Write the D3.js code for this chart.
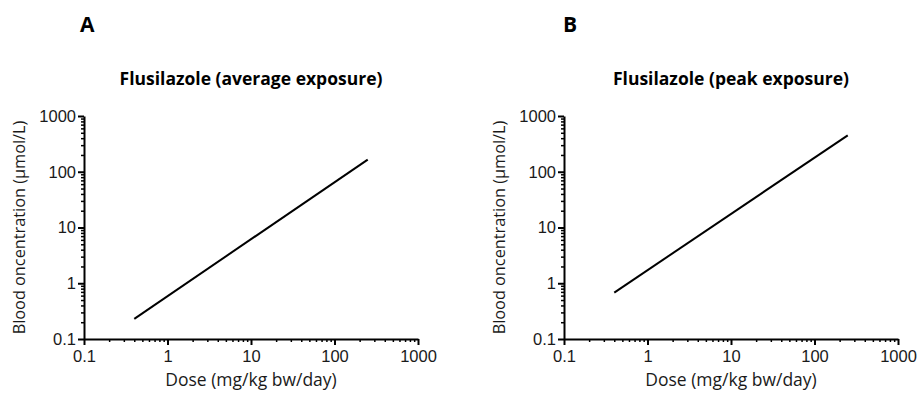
<!DOCTYPE html>
<html lang="en">
<head>
    <meta charset="UTF-8">
    <title>Flusilazole blood concentration</title>
    <style>
        body {
            margin: 0;
            background-color: white;
        }
        svg {
            display: block;
            font-family: 'Open Sans', sans-serif;
        }
        .axis path, .axis line {
            stroke: #000;
        }
        .axis text {
            font-size: 16.5px;
            fill: #1a1a1a;
        }
    </style>
</head>
<body>
    <div id="chart"></div>

    <script src="https://d3js.org/d3.v7.min.js"></script>

    <script>
        // data
        var doses = [0.4, 250];                 // mg/kg bw/day
        var avgConc = [0.23, 165];              // umol/L, panel A
        var peakConc = [0.68, 450];             // umol/L, panel B
        var decades = [0.1, 1, 10, 100, 1000];  // tick labels on both axes
        var panelLetters = ["A", "B"];
        var panelTitles = ["Flusilazole (average exposure)", "Flusilazole (peak exposure)"];

        var w = 919;
        var h = 400;

        var svg = d3.select("#chart")
            .append("svg")
            .attr("width", w)
            .attr("height", h);

        // minor ticks 2..9 in each decade
        var minorTicks = [];
        decades.slice(0, -1).forEach(function(d) {
            for (var k = 2; k <= 9; k++) minorTicks.push(d * k);
        });

        var fmt = function(d) { return d < 1 ? "0.1" : d3.format("d")(d); };

        function drawPanel(left, series, i, letterX) {
            var plotW = 334;
            var top = 116, bottom = 339;

            var x = d3.scaleLog().domain([0.1, 1000]).range([left, left + plotW]);
            var y = d3.scaleLog().domain([0.1, 1000]).range([bottom, top]);

            var g = svg.append("g");

            // minor ticks
            g.append("g")
                .attr("class", "axis")
                .attr("transform", "translate(0," + bottom + ")")
                .call(d3.axisBottom(x).tickValues(minorTicks).tickSize(3).tickFormat(""))
                .call(function(s) { s.select(".domain").remove(); s.selectAll("line").attr("stroke-width", 1.5); });

            g.append("g")
                .attr("class", "axis")
                .attr("transform", "translate(" + left + ",0)")
                .call(d3.axisLeft(y).tickValues(minorTicks).tickSize(3).tickFormat(""))
                .call(function(s) { s.select(".domain").remove(); s.selectAll("line").attr("stroke-width", 1.5); });

            // major ticks + labels
            g.append("g")
                .attr("class", "axis")
                .attr("transform", "translate(0," + bottom + ")")
                .call(d3.axisBottom(x).tickValues(decades).tickSize(6).tickSizeOuter(0).tickPadding(5).tickFormat(fmt))
                .call(function(s) { s.select(".domain").attr("stroke-width", 2); s.selectAll("line").attr("stroke-width", 2); });

            g.append("g")
                .attr("class", "axis")
                .attr("transform", "translate(" + left + ",0)")
                .call(d3.axisLeft(y).tickValues(decades).tickSize(6).tickSizeOuter(0).tickPadding(2).tickFormat(fmt))
                .call(function(s) { s.select(".domain").attr("stroke-width", 2); s.selectAll("line").attr("stroke-width", 2); });

            // dose-concentration line
            var pts = doses.map(function(d, j) { return [d, series[j]]; });
            g.append("path")
                .datum(pts)
                .attr("fill", "none")
                .attr("stroke", "#000")
                .attr("stroke-width", 2)
                .attr("d", d3.line().x(function(d) { return x(d[0]); }).y(function(d) { return y(d[1]); }));

            // titles and labels
            g.append("text")
                .attr("x", letterX)
                .attr("y", 32)
                .attr("font-size", 21)
                .attr("font-weight", "bold")
                .text(panelLetters[i]);

            g.append("text")
                .attr("x", left + plotW / 2)
                .attr("y", 85)
                .attr("text-anchor", "middle")
                .attr("font-size", 17.5)
                .attr("font-weight", "bold")
                .text(panelTitles[i]);

            g.append("text")
                .attr("x", left + plotW / 2)
                .attr("y", 386)
                .attr("text-anchor", "middle")
                .attr("font-size", 17.5)
                .attr("fill", "#1a1a1a")
                .text("Dose (mg/kg bw/day)");

            g.append("text")
                .attr("transform", "translate(" + (left - 59) + "," + ((top + bottom) / 2) + ") rotate(-90)")
                .attr("text-anchor", "middle")
                .attr("font-size", 16.3)
                .attr("fill", "#1a1a1a")
                .text("Blood oncentration (µmol/L)");
        }

        drawPanel(84, avgConc, 0, 80);
        drawPanel(564, peakConc, 1, 563);
    </script>
</body>
</html>
